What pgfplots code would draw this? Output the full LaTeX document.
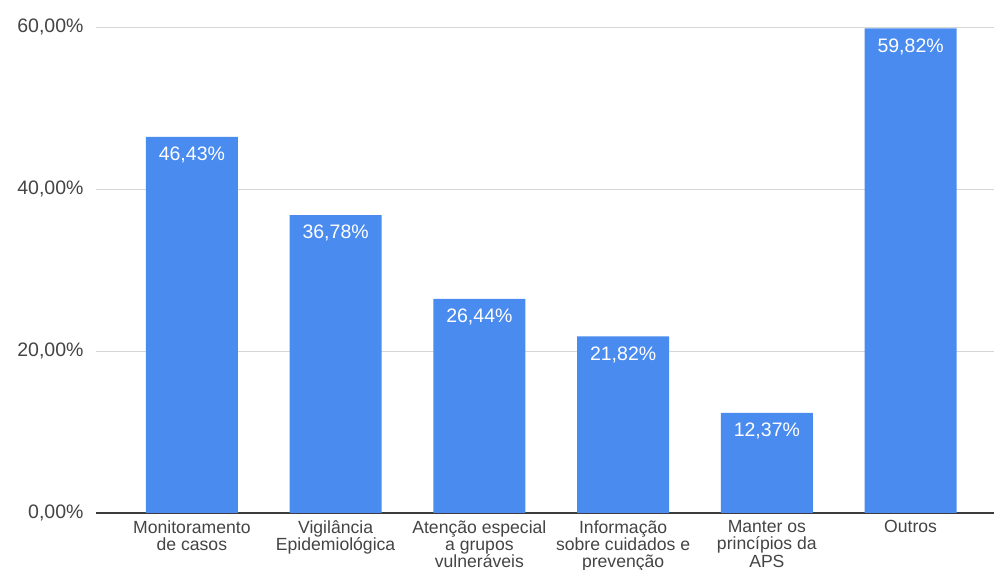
\documentclass[border=0pt]{standalone}
\usepackage{pgfplots}
\pgfplotsset{compat=1.18}
\usepackage{fontspec}
\setmainfont{Liberation Sans}
\definecolor{barblue}{HTML}{4A8BEF}
\definecolor{gridgray}{HTML}{D6D6D6}
\definecolor{axisgray}{HTML}{3C3C3C}
\definecolor{labelgray}{HTML}{444444}
\begin{document}
\begin{tikzpicture}
\useasboundingbox (-96pt,-57pt) rectangle (898pt,513pt);
\begin{axis}[
  at={(0pt,0pt)}, anchor=south west,
  scale only axis,
  width=898pt, height=486pt,
  xmin=-0.667, xmax=5.58,
  ymin=0, ymax=60,
  ytick={0,20,40,60},
  xtick={0,1,2,3,4,5},
  xticklabels={{Monitoramento\\de casos},{Vigilância\\Epidemiológica},{Atenção especial\\a grupos\\vulneráveis},{Informação\\sobre cuidados e\\prevenção},{Manter os\\princípios da\\APS},{Outros}},
  /pgf/number format/assume math mode=true,
  yticklabel={\pgfmathprintnumber[fixed,fixed zerofill,precision=2,use comma]{\tick}\%},
  axis x line*=bottom,
  axis y line*=left,
  y axis line style={draw=none},
  x axis line style={draw=axisgray, line width=1.3pt, -},
  ymajorgrids,
  grid style={draw=gridgray, line width=0.9pt},
  major tick length=0,
  yticklabel style={font=\fontsize{19.5}{20}\selectfont, text=labelgray, xshift=-9pt, anchor=east},
  xticklabel style={font=\fontsize{17.6}{17.2}\selectfont, text=labelgray, align=center, anchor=north, yshift=-4pt},
  ybar,
  bar width=92pt,
  nodes near coords={\pgfmathprintnumber[fixed,fixed zerofill,precision=2,use comma]{\pgfplotspointmeta}\%},
  nodes near coords style={anchor=north, inner sep=0pt, yshift=-10pt, text=white, font=\fontsize{19.5}{20}\selectfont},
  clip=false,
]
\addplot[fill=barblue, draw=none] coordinates {(0,46.43) (1,36.78) (2,26.44) (3,21.82) (4,12.37) (5,59.82)};
\end{axis}
\end{tikzpicture}
\end{document}
